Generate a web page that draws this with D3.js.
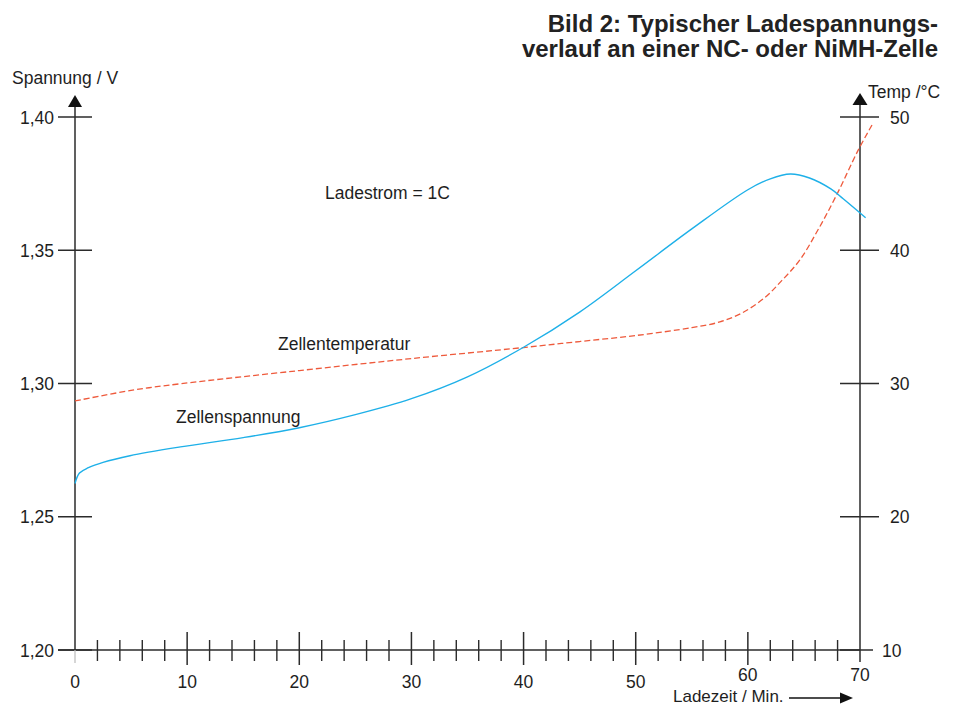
<!DOCTYPE html>
<html>
<head>
<meta charset="utf-8">
<script src="https://cdn.jsdelivr.net/npm/d3@7"></script>
<style>
  html, body { margin: 0; padding: 0; background: #fff; }
  svg { display: block; font-family: "Liberation Sans", Arial, sans-serif; }
</style>
</head>
<body>
<svg id="chart" width="958" height="706"></svg>
<script>
// ---- data ----
const titleLines = ["Bild 2: Typischer Ladespannungs-", "verlauf an einer NC- oder NiMH-Zelle"];
const xMajorTicks = [0, 10, 20, 30, 40, 50, 60, 70];
const xMinorTicks = [2,4,6,8,12,14,16,18,22,24,26,28,32,34,36,38,42,44,46,48,52,54,56,58,62,64,66,68];
const voltTicks = [1.20, 1.25, 1.30, 1.35, 1.40];
const voltTickLabels = ["1,20", "1,25", "1,30", "1,35", "1,40"];
const tempTicks = [10, 20, 30, 40, 50];

// Zellenspannung (V) over Ladezeit (min)
const voltTime = [0, 0.4, 1.2, 2.5, 4.9, 9.4, 15, 20, 25, 30, 35, 40, 45, 50, 55, 60, 62, 63.8, 65.5, 67.4, 68.5, 70.5];
const voltValue = [1.2625, 1.2664, 1.2684, 1.2704, 1.2729, 1.2762, 1.2797, 1.2834, 1.2883, 1.2943, 1.3025, 1.3136, 1.3268, 1.3423, 1.3580, 1.3727, 1.3768, 1.3786, 1.3771, 1.3730, 1.3693, 1.3622];

// Zellentemperatur (°C) over Ladezeit (min)
const tempTime = [0, 5, 9.4, 20, 30, 40, 45, 50, 55, 57.5, 59.5, 61.5, 63, 64.65, 66.3, 67.92, 69.85, 71.07];
const tempValue = [28.69, 29.48, 29.98, 30.97, 31.87, 32.70, 33.15, 33.60, 34.19, 34.62, 35.30, 36.44, 37.7, 39.29, 41.6, 44.16, 47.53, 49.4];

// ---- layout ----
const svg = d3.select("#chart");
const axisColor = "#2b2b2b";
const textColor = "#1e1e1e";
const fs = 17.5;

const x = d3.scaleLinear().domain([0, 70]).range([75, 860]);
const yV = d3.scaleLinear().domain([1.20, 1.40]).range([650, 117]);
const yT = d3.scaleLinear().domain([10, 50]).range([650, 117]);

// title
svg.append("g").selectAll("text").data(titleLines).join("text")
  .attr("x", 938).attr("y", (d, i) => 31.5 + i * 25)
  .attr("text-anchor", "end")
  .attr("font-size", 24).attr("font-weight", "bold")
  .attr("fill", "#222").text(d => d);

// left axis
const gL = svg.append("g").attr("transform", `translate(${x(0)},0)`);
gL.append("line").attr("x1", 0).attr("x2", 0).attr("y1", 106).attr("y2", yV(1.20))
  .attr("stroke", axisColor).attr("stroke-width", 1.5);
gL.append("path").attr("d", "M0,95 L-7,107 L7,107 Z").attr("fill", "#111");
gL.selectAll(".tk").data(voltTicks).join("line")
  .attr("x1", -17).attr("x2", 17).attr("y1", d => yV(d)).attr("y2", d => yV(d))
  .attr("stroke", axisColor).attr("stroke-width", 1.5);
gL.selectAll(".lb").data(voltTicks).join("text")
  .attr("x", -21).attr("y", d => yV(d) + 6.5)
  .attr("text-anchor", "end").attr("font-size", fs).attr("fill", textColor)
  .text((d, i) => voltTickLabels[i]);
svg.append("text").attr("x", 12).attr("y", 84).attr("font-size", fs).attr("fill", textColor)
  .text("Spannung / V");

// right axis
const gR = svg.append("g").attr("transform", `translate(${x(70)},0)`);
gR.append("line").attr("x1", 0).attr("x2", 0).attr("y1", 104).attr("y2", 662)
  .attr("stroke", axisColor).attr("stroke-width", 1.5);
gR.append("path").attr("d", "M0,93 L-7.5,105 L7.5,105 Z").attr("fill", "#111");
gR.selectAll(".tk").data(tempTicks).join("line")
  .attr("x1", -20).attr("x2", d => d === 10 ? 13 : 19).attr("y1", d => yT(d)).attr("y2", d => yT(d))
  .attr("stroke", axisColor).attr("stroke-width", 1.5);
gR.selectAll(".lb").data(tempTicks).join("text")
  .attr("x", d => d === 10 ? 22 : 30).attr("y", d => yT(d) + 6.5)
  .attr("font-size", fs).attr("fill", textColor).text(d => d);
svg.append("text").attr("x", 868).attr("y", 98).attr("font-size", fs).attr("fill", textColor)
  .text("Temp /°C");

// bottom axis
const gB = svg.append("g");
gB.append("line").attr("x1", 58).attr("x2", x(70)).attr("y1", 650).attr("y2", 650)
  .attr("stroke", axisColor).attr("stroke-width", 1.5);
gB.selectAll(".maj").data(xMajorTicks.filter(d => d > 0 && d < 70)).join("line")
  .attr("x1", d => x(d)).attr("x2", d => x(d)).attr("y1", 632).attr("y2", 665)
  .attr("stroke", axisColor).attr("stroke-width", 1.5);
gB.append("line").attr("x1", x(0)).attr("x2", x(0)).attr("y1", 650).attr("y2", 663)
  .attr("stroke", "#bbb").attr("stroke-width", 1.2);
gB.selectAll(".min").data(xMinorTicks).join("line")
  .attr("x1", d => x(d)).attr("x2", d => x(d)).attr("y1", 640).attr("y2", 661)
  .attr("stroke", axisColor).attr("stroke-width", 1.4);
gB.selectAll(".lb").data(xMajorTicks).join("text")
  .attr("x", d => x(d)).attr("y", d => d >= 60 ? 681 : 688)
  .attr("text-anchor", "middle").attr("font-size", fs).attr("fill", textColor).text(d => d);
svg.append("text").attr("x", 673).attr("y", 702).attr("font-size", 17).attr("fill", textColor)
  .text("Ladezeit / Min.");
svg.append("line").attr("x1", 789).attr("x2", 842).attr("y1", 698).attr("y2", 698)
  .attr("stroke", "#111").attr("stroke-width", 1.3);
svg.append("path").attr("d", "M840,692.5 L853,698 L840,703.5 Z").attr("fill", "#111");

// curves
const voltData = voltTime.map((t, i) => [t, voltValue[i]]);
const tempData = tempTime.map((t, i) => [t, tempValue[i]]);

svg.append("path").datum(tempData)
  .attr("fill", "none").attr("stroke", "#ee5a3c").attr("stroke-width", 1.3)
  .attr("stroke-dasharray", "6,3")
  .attr("d", d3.line().x(d => x(d[0])).y(d => yT(d[1])).curve(d3.curveCatmullRom.alpha(0.5)));

svg.append("path").datum(voltData)
  .attr("fill", "none").attr("stroke", "#1eb0e8").attr("stroke-width", 1.4)
  .attr("d", d3.line().x(d => x(d[0])).y(d => yV(d[1])).curve(d3.curveCatmullRom.alpha(0.5)));

// annotations
svg.append("text").attr("x", 325).attr("y", 199).attr("font-size", fs).attr("fill", textColor)
  .text("Ladestrom = 1C");
svg.append("text").attr("x", 278).attr("y", 350).attr("font-size", fs).attr("fill", textColor)
  .text("Zellentemperatur");
svg.append("text").attr("x", 176).attr("y", 423).attr("font-size", fs).attr("fill", textColor)
  .text("Zellenspannung");
</script>
</body>
</html>
